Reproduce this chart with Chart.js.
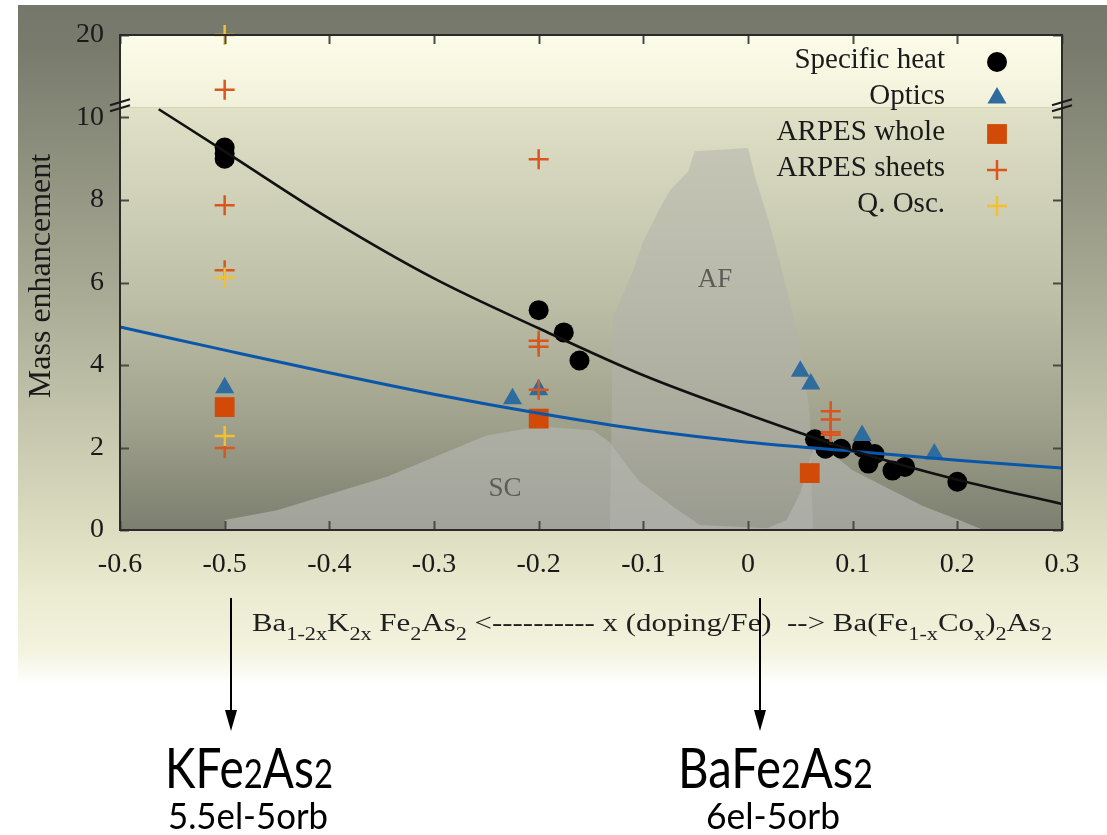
<!DOCTYPE html>
<html>
<head>
<meta charset="utf-8">
<script src="https://cdn.jsdelivr.net/npm/chart.js@4.4.1/dist/chart.umd.min.js"></script>
<style>
  html, body { margin: 0; padding: 0; background: #fff; }
  #wrap { width: 1107px; height: 835px; }
</style>
</head>
<body>
<div id="wrap"><canvas id="chart" width="1107" height="835"></canvas></div>
<script>
// axis setup (y axis is broken between 10 and 20)
const xTicks = [-0.6, -0.5, -0.4, -0.3, -0.2, -0.1, 0, 0.1, 0.2, 0.3];
const xTickLabels = ['-0.6', '-0.5', '-0.4', '-0.3', '-0.2', '-0.1', '0', '0.1', '0.2', '0.3'];
const yTicks = [0, 2, 4, 6, 8, 10, 20];
const BREAK = 10.25, TOP = 20, AXIS_TOP = 12;

// Specific heat
const heatX = [-0.5, -0.5, -0.5, -0.2, -0.176, -0.161, 0.064, 0.074, 0.089, 0.109, 0.121, 0.115, 0.138, 0.15, 0.2];
const heatY = [9.27, 9.13, 9.0, 5.33, 4.79, 4.11, 2.2, 1.97, 1.97, 2.0, 1.84, 1.61, 1.44, 1.53, 1.17];
// Optics
const opticsX = [-0.5, -0.225, -0.2, 0.05, 0.06, 0.109, 0.178];
const opticsY = [3.45, 3.18, 3.4, 3.85, 3.54, 2.29, 1.84];
// ARPES whole
const wholeX = [-0.5, -0.2, 0.059];
const wholeY = [2.98, 2.7, 1.38];
// ARPES sheets
const sheetsX = [-0.5, -0.5, -0.5, -0.5, -0.2, -0.2, -0.2, -0.2, 0.079, 0.079, 0.079, 0.079];
const sheetsY = [12.6, 7.87, 6.3, 1.99, 8.99, 4.59, 4.44, 3.4, 2.88, 2.68, 2.37, 2.31];
// Q. Osc.
const qoscX = [-0.5, -0.5, -0.5];
const qoscY = [20, 6.12, 2.28];

// fit curves
const fitBlackX = [-0.563, -0.5, -0.4, -0.3, -0.2, -0.1, 0, 0.1, 0.2, 0.3];
const fitBlackY = [10.2, 9.18, 7.55, 6.1, 4.89, 3.75, 2.8, 1.93, 1.22, 0.63];
const fitBlueX = [-0.6, -0.5, -0.4, -0.3, -0.2, -0.1, 0, 0.1, 0.2, 0.3];
const fitBlueY = [4.92, 4.36, 3.81, 3.29, 2.83, 2.43, 2.13, 1.91, 1.69, 1.5];

// phase diagram regions
const afX = [-0.132, -0.129, -0.11, -0.1, -0.084, -0.074, -0.057, -0.051, 0.0, 0.008, 0.018, 0.031, 0.043, 0.053, 0.059, 0.062];
const afY = [0, 5.15, 6.28, 7.0, 7.81, 8.25, 8.7, 9.18, 9.26, 8.45, 7.65, 6.44, 5.23, 4.03, 2.82, 0];
const scX = [-0.5, -0.5, -0.45, -0.345, -0.25, -0.2, -0.148, -0.132, -0.11, -0.103, -0.071, -0.046, 0.018, 0.037, 0.05, 0.058, 0.062, 0.075, 0.1, 0.136, 0.167, 0.2, 0.225];
const scY = [0, 0.24, 0.48, 1.29, 2.29, 2.51, 2.42, 2.13, 1.37, 1.17, 0.56, 0.12, 0.04, 0.24, 0.9, 1.6, 2.0, 1.95, 1.45, 0.98, 0.58, 0.26, 0];

function brk(v) {
    return v <= BREAK ? v : BREAK + (v - BREAK) * (AXIS_TOP - BREAK) / (TOP - BREAK);
}
function pts(xs, ys) {
    return xs.map((x, i) => ({ x: x, y: brk(ys[i]) }));
}

const SERIF = '"Liberation Serif", "DejaVu Serif", serif';

// fond dégradé + zone du graphe
const bgPlugin = {
    id: 'bg',
    beforeDraw(chart) {
        const ctx = chart.ctx, a = chart.chartArea;
        ctx.save();
        ctx.fillStyle = '#ffffff';
        ctx.fillRect(0, 0, chart.width, chart.height);
        let g = ctx.createLinearGradient(0, 5, 0, 685);
        g.addColorStop(0, '#74776a');
        g.addColorStop(0.06, '#787b6c');
        g.addColorStop(0.43, '#a9ab95');
        g.addColorStop(0.77, '#dcdcc0');
        g.addColorStop(0.87, '#ececd2');
        g.addColorStop(0.95, '#f3f3df');
        g.addColorStop(1, '#ffffff');
        ctx.fillStyle = g;
        ctx.fillRect(18, 5, chart.width - 18, 680);

        const yb = chart.scales.y.getPixelForValue(BREAK);
        g = ctx.createLinearGradient(0, a.top, 0, yb);
        g.addColorStop(0, '#fcfcea');
        g.addColorStop(1, '#f1f1da');
        ctx.fillStyle = g;
        ctx.fillRect(a.left, a.top, a.right - a.left, yb - a.top);
        g = ctx.createLinearGradient(0, yb, 0, a.bottom);
        g.addColorStop(0, '#e0e1c7');
        g.addColorStop(0.45, '#bdbfa7');
        g.addColorStop(0.75, '#9fa18c');
        g.addColorStop(1, '#7c7e6f');
        ctx.fillStyle = g;
        ctx.fillRect(a.left, yb, a.right - a.left, a.bottom - yb);
        ctx.restore();
    }
};

function drawMarker(ctx, style, x, y, r, color) {
    ctx.save();
    ctx.fillStyle = color;
    ctx.strokeStyle = color;
    ctx.beginPath();
    if (style === 'circle') {
        ctx.arc(x, y, r, 0, Math.PI * 2);
        ctx.fill();
    } else if (style === 'triangle') {
        ctx.moveTo(x, y - r);
        ctx.lineTo(x + r * 0.866, y + r * 0.5);
        ctx.lineTo(x - r * 0.866, y + r * 0.5);
        ctx.closePath();
        ctx.fill();
    } else if (style === 'rect') {
        const s = r * Math.SQRT1_2;
        ctx.rect(x - s, y - s, 2 * s, 2 * s);
        ctx.fill();
    } else {
        ctx.lineWidth = 2.5;
        ctx.moveTo(x - r, y); ctx.lineTo(x + r, y);
        ctx.moveTo(x, y - r); ctx.lineTo(x, y + r);
        ctx.stroke();
    }
    ctx.restore();
}

function drawRuns(ctx, runs, x, y, targetW, mainFont, subFont, subDrop) {
    let w = 0;
    runs.forEach(r => { ctx.font = r[1] ? subFont : mainFont; w += ctx.measureText(r[0]).width; });
    ctx.save();
    ctx.translate(x, y);
    ctx.scale(targetW / w, 1);
    let cx = 0;
    runs.forEach(r => {
        ctx.font = r[1] ? subFont : mainFont;
        ctx.fillText(r[0], cx, r[1] ? subDrop : 0);
        cx += ctx.measureText(r[0]).width;
    });
    ctx.restore();
}

// axes, légende, textes
const framePlugin = {
    id: 'frame',
    afterDatasetsDraw(chart) {
        const ctx = chart.ctx, a = chart.chartArea;
        const xs = chart.scales.x, ys = chart.scales.y;
        ctx.save();

        // ticks (inside)
        ctx.strokeStyle = '#4a4a45';
        ctx.lineWidth = 2;
        ctx.beginPath();
        xTicks.forEach(t => {
            const px = Math.round(xs.getPixelForValue(t)) + 0.5;
            ctx.moveTo(px, a.bottom); ctx.lineTo(px, a.bottom - 9);
            ctx.moveTo(px, a.top); ctx.lineTo(px, a.top + 9);
        });
        yTicks.forEach(t => {
            const py = Math.round(ys.getPixelForValue(brk(t))) + 0.5;
            ctx.moveTo(a.left, py); ctx.lineTo(a.left + 9, py);
            ctx.moveTo(a.right, py); ctx.lineTo(a.right - 9, py);
        });
        ctx.stroke();

        // border
        ctx.strokeStyle = '#2a2a2a';
        ctx.lineWidth = 2;
        ctx.strokeRect(a.left, a.top, a.right - a.left, a.bottom - a.top);

        // break marks
        const yb = ys.getPixelForValue(BREAK);
        ctx.lineWidth = 2;
        ctx.strokeStyle = '#1a1a1a';
        [a.left, a.right].forEach(px => {
            ctx.beginPath();
            ctx.moveTo(px - 10, yb + 4); ctx.lineTo(px + 10, yb - 2);
            ctx.moveTo(px - 10, yb - 2); ctx.lineTo(px + 10, yb - 8);
            ctx.stroke();
        });

        // tick labels
        ctx.fillStyle = '#1a1a1a';
        ctx.font = '28px ' + SERIF;
        ctx.textAlign = 'right';
        ctx.textBaseline = 'middle';
        yTicks.forEach(t => {
            ctx.fillText(String(t), a.left - 16, ys.getPixelForValue(brk(t)));
        });
        ctx.textAlign = 'center';
        xTicks.forEach((t, i) => {
            ctx.fillText(xTickLabels[i], xs.getPixelForValue(t), a.bottom + 35);
        });

        // y title
        ctx.save();
        ctx.translate(42, 276);
        ctx.rotate(-Math.PI / 2);
        ctx.font = '32px ' + SERIF;
        ctx.fillText('Mass enhancement', 0, 0);
        ctx.restore();

        // region labels
        ctx.fillStyle = '#5c5d57';
        ctx.font = '27px ' + SERIF;
        ctx.fillText('AF', 715, 280);
        ctx.fillText('SC', 505, 489);

        // legend
        ctx.fillStyle = '#1a1a1a';
        ctx.textAlign = 'right';
        ctx.font = '29px ' + SERIF;
        const rows = [60, 96, 132, 168, 204];
        const sizes = [10, 11, 14, 10, 10];
        chart.data.datasets.filter(d => d.inLegend).forEach((d, i) => {
            ctx.fillStyle = '#1a1a1a';
            ctx.fillText(d.label, 945, rows[i]);
            drawMarker(ctx, d.pointStyle, 997, rows[i] + 2, sizes[i], d.backgroundColor);
        });

        // x title with subscripts
        ctx.fillStyle = '#1f1f1f';
        ctx.textAlign = 'left';
        ctx.textBaseline = 'alphabetic';
        const titleRuns = [['Ba', 0], ['1-2x', 1], ['K', 0], ['2x', 1], [' Fe', 0], ['2', 1], ['As', 0], ['2', 1],
            [' <---------- x (doping/Fe)  --> Ba(Fe', 0], ['1-x', 1], ['Co', 0], ['x', 1], [')', 0], ['2', 1], ['As', 0], ['2', 1]];
        drawRuns(ctx, titleRuns, 252, 631, 800, '25px ' + SERIF, '18px ' + SERIF, 9);

        // arrows
        ctx.strokeStyle = '#000';
        ctx.fillStyle = '#000';
        ctx.lineWidth = 2;
        [231, 760].forEach(px => {
            ctx.beginPath();
            ctx.moveTo(px, 598); ctx.lineTo(px, 714);
            ctx.stroke();
            ctx.beginPath();
            ctx.moveTo(px - 6, 710); ctx.lineTo(px + 6, 710); ctx.lineTo(px, 731);
            ctx.closePath();
            ctx.fill();
        });

        // compounds
        const SANS = 'Lato, "Open Sans", sans-serif';
        drawRuns(ctx, [['KFe', 0], ['2', 1], ['As', 0], ['2', 1]], 165, 788, 168, '56px ' + SANS, '40px ' + SANS, 0);
        drawRuns(ctx, [['BaFe', 0], ['2', 1], ['As', 0], ['2', 1]], 678, 788, 195, '56px ' + SANS, '40px ' + SANS, 0);
        drawRuns(ctx, [['5.5el-5orb', 0]], 168, 829, 160, '36px ' + SANS, '36px ' + SANS, 0);
        drawRuns(ctx, [['6el-5orb', 0]], 706, 829, 134, '36px ' + SANS, '36px ' + SANS, 0);

        ctx.restore();
    }
};

new Chart(document.getElementById('chart'), {
    type: 'scatter',
    data: {
        datasets: [
            {
                label: 'Specific heat', inLegend: true,
                data: pts(heatX, heatY),
                pointStyle: 'circle', pointRadius: 10,
                backgroundColor: '#000000', borderColor: '#000000', borderWidth: 0,
                order: 6
            },
            {
                label: 'Optics', inLegend: true,
                data: pts(opticsX, opticsY),
                pointStyle: 'triangle', pointRadius: 11,
                backgroundColor: '#2e6c9e', borderColor: '#2e6c9e', borderWidth: 0,
                order: 5
            },
            {
                label: 'ARPES whole', inLegend: true,
                data: pts(wholeX, wholeY),
                pointStyle: 'rect', pointRadius: 14,
                backgroundColor: '#d24a08', borderColor: '#d24a08', borderWidth: 0,
                order: 4
            },
            {
                label: 'ARPES sheets', inLegend: true,
                data: pts(sheetsX, sheetsY),
                pointStyle: 'cross', pointRadius: 10,
                backgroundColor: '#d9561f', borderColor: '#d9561f', borderWidth: 2.5,
                order: 3
            },
            {
                label: 'Q. Osc.', inLegend: true,
                data: pts(qoscX, qoscY),
                pointStyle: 'cross', pointRadius: 10,
                backgroundColor: '#f4c030', borderColor: '#f4c030', borderWidth: 2.5,
                order: 2, clip: false
            },
            {
                label: 'fit1',
                data: pts(fitBlueX, fitBlueY),
                showLine: true, pointRadius: 0, cubicInterpolationMode: 'monotone',
                borderColor: '#0a56a8', borderWidth: 3,
                order: 1
            },
            {
                label: 'fit2',
                data: pts(fitBlackX, fitBlackY),
                showLine: true, pointRadius: 0, cubicInterpolationMode: 'monotone',
                borderColor: '#111111', borderWidth: 2.6,
                order: 0
            },
            {
                label: 'SC',
                data: pts(scX, scY),
                showLine: true, pointRadius: 0, fill: 'origin', borderWidth: 0,
                borderColor: 'rgba(0,0,0,0)', backgroundColor: 'rgba(181,182,176,0.67)',
                order: 9
            },
            {
                label: 'AF',
                data: pts(afX, afY),
                showLine: true, pointRadius: 0, fill: 'origin', borderWidth: 0,
                borderColor: 'rgba(0,0,0,0)', backgroundColor: 'rgba(179,180,172,0.54)',
                order: 10
            }
        ]
    },
    options: {
        responsive: false,
        animation: false,
        devicePixelRatio: 1,
        layout: { padding: { left: 120, right: 45, top: 35, bottom: 305 } },
        scales: {
            x: { type: 'linear', min: -0.6, max: 0.3, display: false },
            y: { type: 'linear', min: 0, max: AXIS_TOP, display: false }
        },
        plugins: {
            legend: { display: false },
            tooltip: { enabled: false }
        }
    },
    plugins: [bgPlugin, framePlugin]
});
</script>
</body>
</html>
